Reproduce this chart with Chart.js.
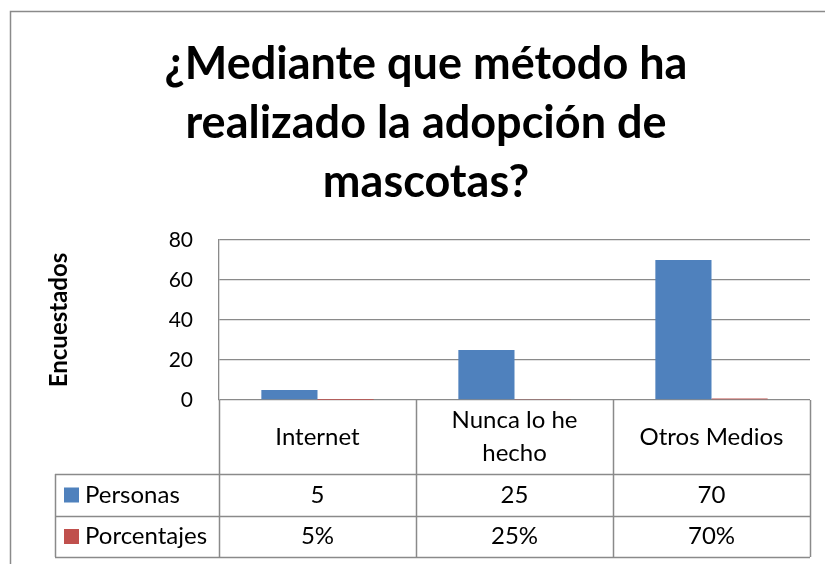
<!DOCTYPE html>
<html>
<head>
<meta charset="utf-8">
<script src="https://cdn.jsdelivr.net/npm/chart.js@4.4.1/dist/chart.umd.min.js"></script>
<style>
  html, body { margin: 0; padding: 0; background: #fff; }
</style>
</head>
<body>
<canvas id="chart" width="825" height="564"></canvas>
<script>
// data
const titleLines = ['¿Mediante que método ha', 'realizado la adopción de', 'mascotas?'];
const categories = [['Internet'], ['Nunca lo he', 'hecho'], ['Otros Medios']];
const seriesNames = ['Personas', 'Porcentajes'];
const personas = [5, 25, 70];
const porcentajes = [0.05, 0.25, 0.70];
const yTicks = [0, 20, 40, 60, 80];
const yTitle = 'Encuestados';

const BLUE = '#4f81bd';
const RED = '#c0504d';
const LINE = '#8a8a8a';
const FONT = 'Lato, "Open Sans", sans-serif';

// frame around the whole chart, like the Excel chart border
const framePlugin = {
  id: 'frame',
  beforeDraw(chart) {
    const ctx = chart.ctx;
    ctx.save();
    ctx.fillStyle = '#fff';
    ctx.fillRect(0, 0, chart.width, chart.height);
    ctx.strokeStyle = LINE;
    ctx.lineWidth = 1.5;
    ctx.strokeRect(10.5, 11.5, chart.width + 20, chart.height + 20);
    ctx.restore();
  }
};

// data table under the plot (category row + one row per series)
const tablePlugin = {
  id: 'dataTable',
  afterDraw(chart) {
    const ctx = chart.ctx;
    const xs = chart.scales.x;
    const area = chart.chartArea;
    const n = categories.length;
    const step = (xs.right - xs.left) / n;
    const tableLeft = 55;
    const headTop = area.bottom;
    const rowTops = [474, 516];
    const tableBottom = 557;
    const rows = [
      { name: seriesNames[0], color: BLUE, vals: personas.map(v => String(v)) },
      { name: seriesNames[1], color: RED, vals: porcentajes.map(v => Math.round(v * 100) + '%') }
    ];

    ctx.save();
    ctx.strokeStyle = LINE;
    ctx.lineWidth = 1.5;
    ctx.beginPath();
    for (let i = 0; i <= n; i++) {
      const ex = Math.round(xs.left + i * step) + 0.5;
      ctx.moveTo(ex, headTop);
      ctx.lineTo(ex, tableBottom);
    }
    [rowTops[0], rowTops[1], tableBottom].forEach(yy => {
      ctx.moveTo(tableLeft, yy + 0.5);
      ctx.lineTo(xs.right, yy + 0.5);
    });
    ctx.moveTo(tableLeft + 0.5, rowTops[0]);
    ctx.lineTo(tableLeft + 0.5, tableBottom);
    ctx.stroke();

    ctx.fillStyle = '#000';
    ctx.font = '24px ' + FONT;
    ctx.textAlign = 'center';
    ctx.textBaseline = 'middle';

    // category header
    const headMid = (headTop + rowTops[0]) / 2;
    categories.forEach((lines, i) => {
      const cx = xs.getPixelForValue(i);
      const lh = 33;
      lines.forEach((t, j) => {
        ctx.fillText(t, cx, headMid + (j - (lines.length - 1) / 2) * lh);
      });
    });

    // series rows
    const bottoms = [rowTops[1], tableBottom];
    rows.forEach((r, k) => {
      const mid = (rowTops[k] + bottoms[k]) / 2;
      ctx.fillStyle = r.color;
      ctx.fillRect(64, mid - 7.5, 15, 15);
      ctx.fillStyle = '#000';
      ctx.textAlign = 'left';
      ctx.fillText(r.name, 85, mid);
      ctx.textAlign = 'center';
      r.vals.forEach((t, i) => ctx.fillText(t, xs.getPixelForValue(i), mid));
    });
    ctx.restore();
  }
};

new Chart(document.getElementById('chart'), {
  type: 'bar',
  data: {
    labels: categories,
    datasets: [
      { label: seriesNames[0], data: personas, backgroundColor: BLUE, barPercentage: 1, categoryPercentage: 0.57 },
      { label: seriesNames[1], data: porcentajes, backgroundColor: RED, barPercentage: 1, categoryPercentage: 0.57 }
    ]
  },
  options: {
    responsive: false,
    animation: false,
    layout: { padding: { left: 42, right: 15, top: 0, bottom: 164 } },
    plugins: {
      legend: { display: false },
      tooltip: { enabled: false },
      title: {
        display: true,
        text: titleLines,
        color: '#000',
        font: { family: FONT, size: 45, weight: 'bold', lineHeight: 1.311 },
        padding: { top: 34.5, bottom: 28.5 }
      }
    },
    scales: {
      x: {
        grid: { display: false },
        border: { display: false },
        ticks: { display: false },
        afterFit(scale) { scale.height = 0; }
      },
      y: {
        min: yTicks[0],
        max: yTicks[yTicks.length - 1],
        afterBuildTicks(scale) { scale.ticks = yTicks.map(v => ({ value: v })); },
        ticks: { color: '#000', padding: 26, font: { family: FONT, size: 21 } },
        grid: { color: LINE, lineWidth: 1.3, drawTicks: false },
        border: { color: LINE, width: 1.3 },
        title: {
          display: true,
          text: yTitle,
          color: '#000',
          font: { family: FONT, size: 24, weight: 'bold' },
          padding: { top: 3, bottom: 0 }
        },
        afterFit(scale) { scale.width = 177; }
      }
    }
  },
  plugins: [framePlugin, tablePlugin]
});
</script>
</body>
</html>
